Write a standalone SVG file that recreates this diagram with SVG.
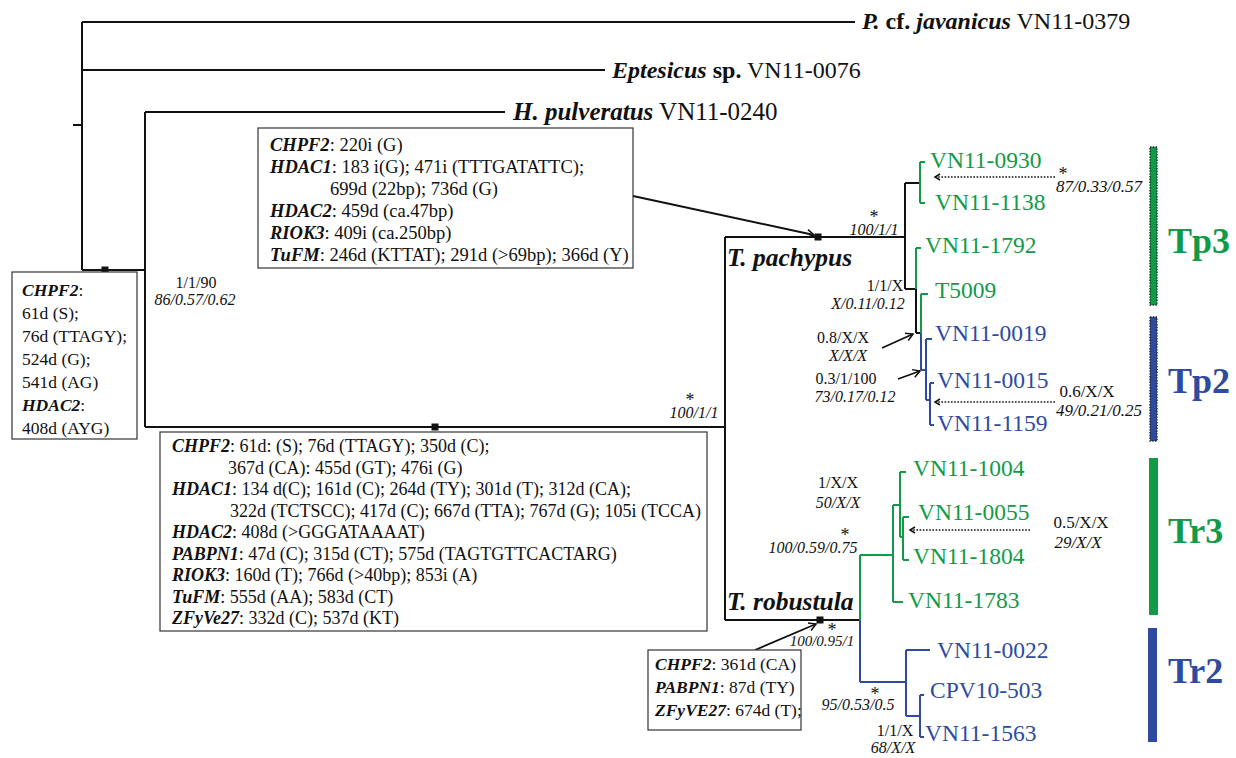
<svg xmlns="http://www.w3.org/2000/svg" width="1236" height="758" viewBox="0 0 1236 758">
<defs>
<style>
text{font-family:"Liberation Serif","Times New Roman",serif;fill:#111}
.br{stroke:#111;stroke-width:2;fill:none}
.g{stroke:#119a48;stroke-width:2;fill:none}
.b{stroke:#2e4b9f;stroke-width:2;fill:none}
.box{fill:#fff;stroke:#333;stroke-width:1.2}
.bt{font-size:18px}
.gn{font-weight:bold;font-style:italic}
.og{font-size:24px}
.tip{font-size:23.5px}
.tg{fill:#119a48}
.tb{fill:#2e4b9f}
.sup{font-size:16px;text-anchor:middle}
.it{font-style:italic}
.ast{font-size:18px;text-anchor:middle;fill:#111}
.arr{stroke:#111;stroke-width:1.8;fill:none;marker-end:url(#ah)}
.dot{stroke:#111;stroke-width:1.6;stroke-dasharray:1.6 1.6;fill:none;marker-end:url(#ahd)}
.sq{fill:#111}
.clab{font-size:36px;font-weight:bold}
.bar{stroke:#222;stroke-width:1.4;stroke-dasharray:1.4 1.4}
.cl{font-size:25.5px;font-weight:bold;font-style:italic}
</style>
<marker id="ah" markerWidth="12" markerHeight="12" refX="9" refY="6" orient="auto" markerUnits="userSpaceOnUse"><path d="M2,2 L9,6 L2,10" fill="none" stroke="#111" stroke-width="1.5"/></marker>
<marker id="ahd" markerWidth="10" markerHeight="10" refX="7" refY="5" orient="auto" markerUnits="userSpaceOnUse"><path d="M2,2 L7,5 L2,8" fill="none" stroke="#111" stroke-width="1.5"/></marker>
</defs>
<rect width="1236" height="758" fill="#fff"/>

<g id="connectors">
<path class="br" d="M73,125 H82 M82,22 V270 M82,22 H855 M82,70 H605 M82,270 H145 M145,112 V427 M145,112 H505 M145,427 H725 M725,237 V620 M725,237 H905 M725,620 H860 M905,183 V289 M905,183 H920 M905,289 H916 M916,289 V333 M916,333 H921"/>
<path class="g" d="M920,162 V203 M920,162 H925 M920,203 H925 M916,248 V289 M916,248 H921 M921,294 V333 M921,294 H928 M860,555 V620 M860,555 H893 M893,505 V602 M893,602 H903 M893,505 H900 M900,472 V537 M900,472 H906 M900,537 H903 M903,517 V560 M903,517 H909 M903,560 H909"/>
<path class="b" d="M921,333 V370 M921,370 H926 M926,339 V400 M926,339 H932 M926,400 H930 M930,383 V425 M930,383 H934 M930,425 H934 M860,620 V682 M860,682 H906 M906,650 V716 M906,650 H930 M906,716 H920 M920,695 V737 M920,695 H924 M920,737 H924"/>
<rect class="sq" x="101.5" y="266.5" width="7" height="7"/>
<rect class="sq" x="431.5" y="423.5" width="7" height="7"/>
<rect class="sq" x="814.5" y="233.5" width="7" height="7"/>
<rect class="sq" x="816.5" y="616.5" width="7" height="7"/>
<line class="arr" x1="633" y1="196" x2="814" y2="235"/>
<line class="arr" x1="882" y1="348" x2="913" y2="334"/>
<line class="arr" x1="898" y1="379" x2="920" y2="371"/>
<line class="arr" x1="755" y1="650" x2="816" y2="624"/>
<line class="dot" x1="1055" y1="177" x2="935" y2="177"/>
<line class="dot" x1="1055" y1="402" x2="935" y2="402"/>
<line class="dot" x1="1030" y1="530" x2="910" y2="530"/>
</g>

<g id="outgroup-javanicus"><text class="og" x="862" y="29"><tspan class="gn">P.</tspan><tspan font-weight="bold"> cf. </tspan><tspan class="gn">javanicus</tspan> VN11-0379</text></g>
<g id="outgroup-eptesicus"><text class="og" x="612" y="78"><tspan class="gn">Eptesicus</tspan><tspan font-weight="bold"> sp.</tspan> VN11-0076</text></g>
<g id="outgroup-pulveratus"><text class="og" x="513" y="120" style="font-size:25px"><tspan class="gn">H. pulveratus</tspan> VN11-0240</text></g>

<g id="box-pachypus-indels">
<rect class="box" x="258" y="128" width="375" height="140"/>
<text class="bt" x="270" y="151" style="font-size:18.5px"><tspan class="gn">CHPF2</tspan>: 220i (G)</text>
<text class="bt" x="270" y="173" style="font-size:18.5px"><tspan class="gn">HDAC1</tspan>: 183 i(G); 471i (TTTGATATTC);</text>
<text class="bt" x="330" y="195" style="font-size:18.5px">699d (22bp); 736d (G)</text>
<text class="bt" x="270" y="217" style="font-size:18.5px"><tspan class="gn">HDAC2</tspan>: 459d (ca.47bp)</text>
<text class="bt" x="270" y="239" style="font-size:18.5px"><tspan class="gn">RIOK3</tspan>: 409i (ca.250bp)</text>
<text class="bt" x="270" y="261" style="font-size:18.5px"><tspan class="gn">TuFM</tspan>: 246d (KTTAT); 291d (&gt;69bp); 366d (Y)</text>
</g>

<g id="box-root-indels">
<rect class="box" x="12" y="272" width="125" height="167"/>
<text class="bt" x="22" y="296" style="font-size:17.5px"><tspan class="gn">CHPF2</tspan>:</text>
<text class="bt" x="22" y="319" style="font-size:17.5px">61d (S);</text>
<text class="bt" x="22" y="342" style="font-size:17.5px">76d (TTAGY);</text>
<text class="bt" x="22" y="365" style="font-size:17.5px">524d (G);</text>
<text class="bt" x="22" y="388" style="font-size:17.5px">541d (AG)</text>
<text class="bt" x="22" y="411" style="font-size:17.5px"><tspan class="gn">HDAC2</tspan>:</text>
<text class="bt" x="22" y="434" style="font-size:17.5px">408d (AYG)</text>
</g>

<g id="box-tylonycteris-indels">
<rect class="box" x="160" y="432" width="547" height="199"/>
<text class="bt" x="172" y="452"><tspan class="gn">CHPF2</tspan>: 61d: (S); 76d (TTAGY); 350d (C);</text>
<text class="bt" x="228" y="473.5">367d (CA): 455d (GT); 476i (G)</text>
<text class="bt" x="172" y="495"><tspan class="gn">HDAC1</tspan>: 134 d(C); 161d (C); 264d (TY); 301d (T); 312d (CA);</text>
<text class="bt" x="230" y="516.5">322d (TCTSCC); 417d (C); 667d (TTA); 767d (G); 105i (TCCA)</text>
<text class="bt" x="172" y="538"><tspan class="gn">HDAC2</tspan>: 408d (&gt;GGGATAAAAT)</text>
<text class="bt" x="172" y="559.5"><tspan class="gn">PABPN1</tspan>: 47d (C); 315d (CT); 575d (TAGTGTTCACTARG)</text>
<text class="bt" x="172" y="581"><tspan class="gn">RIOK3</tspan>: 160d (T); 766d (&gt;40bp); 853i (A)</text>
<text class="bt" x="172" y="602.5"><tspan class="gn">TuFM</tspan>: 555d (AA); 583d (CT)</text>
<text class="bt" x="172" y="624"><tspan class="gn">ZFyVe27</tspan>: 332d (C); 537d (KT)</text>
</g>

<g id="box-robustula-indels">
<rect class="box" x="648" y="650" width="153" height="80"/>
<text class="bt" x="655" y="670" style="font-size:17.5px"><tspan class="gn">CHPF2</tspan>: 361d (CA)</text>
<text class="bt" x="655" y="693" style="font-size:17.5px"><tspan class="gn">PABPN1</tspan>: 87d (TY)</text>
<text class="bt" x="655" y="716" style="font-size:17.5px"><tspan class="gn">ZFyVE27</tspan>: 674d (T);</text>
</g>

<g id="support-labels">
<text class="sup" x="196" y="288">1/1/90</text>
<text class="sup it" x="195" y="305">86/0.57/0.62</text>
<text class="ast" x="690" y="406">*</text>
<text class="sup it" x="694" y="418">100/1/1</text>
<text class="ast" x="874" y="223">*</text>
<text class="sup it" x="874" y="235">100/1/1</text>
<text class="sup" x="885" y="291">1/1/X</text>
<text class="sup it" x="868" y="309">X/0.11/0.12</text>
<text class="sup" x="843" y="343">0.8/X/X</text>
<text class="sup it" x="848" y="361">X/X/X</text>
<text class="sup" x="846" y="384">0.3/1/100</text>
<text class="sup it" x="855" y="402">73/0.17/0.12</text>
<text class="ast" x="1063" y="180">*</text>
<text class="sup it" x="1099" y="192" style="font-size:17px">87/0.33/0.57</text>
<text class="sup" x="1087" y="397" style="font-size:17px">0.6/X/X</text>
<text class="sup it" x="1099" y="416" style="font-size:17px">49/0.21/0.25</text>
<text class="sup" x="838" y="488">1/X/X</text>
<text class="sup it" x="838" y="508">50/X/X</text>
<text class="ast" x="845" y="541">*</text>
<text class="sup it" x="813" y="553">100/0.59/0.75</text>
<text class="sup" x="1081" y="528" style="font-size:17px">0.5/X/X</text>
<text class="sup it" x="1078" y="548" style="font-size:17px">29/X/X</text>
<text class="ast" x="832" y="636">*</text>
<text class="sup it" x="822" y="646" style="font-size:15px">100/0.95/1</text>
<text class="ast" x="875" y="700">*</text>
<text class="sup it" x="858" y="710">95/0.53/0.5</text>
<text class="sup" x="895" y="736">1/1/X</text>
<text class="sup it" x="893" y="753">68/X/X</text>
</g>

<g id="clade-pachypus"><text class="cl" x="727" y="266">T. pachypus</text></g>
<g id="clade-robustula"><text class="cl" x="727" y="610">T. robustula</text></g>

<g id="tips">
<text class="tip tg" x="930" y="168">VN11-0930</text>
<text class="tip tg" x="935" y="210">VN11-1138</text>
<text class="tip tg" x="925" y="253">VN11-1792</text>
<text class="tip tg" x="935" y="298">T5009</text>
<text class="tip tb" x="935" y="341">VN11-0019</text>
<text class="tip tb" x="937" y="388">VN11-0015</text>
<text class="tip tb" x="937" y="431">VN11-1159</text>
<text class="tip tg" x="913" y="476">VN11-1004</text>
<text class="tip tg" x="918" y="520">VN11-0055</text>
<text class="tip tg" x="913" y="564">VN11-1804</text>
<text class="tip tg" x="908" y="608">VN11-1783</text>
<text class="tip tb" x="937" y="658">VN11-0022</text>
<text class="tip tb" x="930" y="698">CPV10-503</text>
<text class="tip tb" x="925" y="741">VN11-1563</text>
</g>

<g id="group-Tp3"><rect class="bar" x="1150" y="147" width="7" height="158" fill="#119a48"/><text class="clab tg" x="1168" y="253">Tp3</text></g>
<g id="group-Tp2"><rect class="bar" x="1150" y="317" width="7" height="124" fill="#2e4b9f"/><text class="clab tb" x="1168" y="393">Tp2</text></g>
<g id="group-Tr3"><rect x="1149" y="458" width="9" height="157" fill="#119a48"/><text class="clab tg" x="1168" y="543">Tr3</text></g>
<g id="group-Tr2"><rect x="1148" y="628" width="9" height="114" fill="#2e4b9f"/><text class="clab tb" x="1168" y="683">Tr2</text></g>
</svg>
